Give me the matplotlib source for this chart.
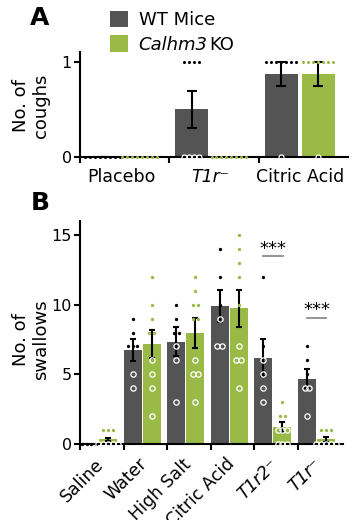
import matplotlib
matplotlib.use("Agg")
import matplotlib.pyplot as plt
from matplotlib.patches import Patch
from matplotlib.transforms import offset_copy
import numpy as np

plt.rcParams['font.family'] = ['DejaVu Sans']

WT_COLOR = '#545454'
KO_COLOR = '#9aba48'

# ---------------- Panel A data ----------------
a_groups = ["Placebo", "T1r\u207b", "Citric Acid"]
a_italic = [False, True, False]
a_wt_mean = [0.0, 0.5, 0.875]
a_wt_err = [0.0, 0.19, 0.125]
a_ko_mean = [0.0, 0.0, 0.875]
a_ko_err = [0.0, 0.0, 0.125]
a_wt_pts = [[0, 0, 0, 0, 0, 0, 0, 0],
            [1, 1, 1, 1, 0, 0, 0, 0],
            [1, 1, 1, 1, 1, 1, 1, 0]]
a_ko_pts = [[0, 0, 0, 0, 0, 0, 0, 0],
            [0, 0, 0, 0, 0, 0, 0, 0],
            [1, 1, 1, 1, 1, 1, 1, 0]]

# ---------------- Panel B data ----------------
b_groups = ["Saline", "Water", "High Salt", "Citric Acid", "T1r2\u207b", "T1r\u207b"]
b_italic = [False, False, False, False, True, True]
b_wt_mean = [0.0, 6.73, 7.34, 9.9, 6.2, 4.69]
b_wt_err = [0.0, 0.78, 1.05, 1.12, 1.3, 0.7]
b_ko_mean = [0.33, 7.19, 7.94, 9.74, 1.22, 0.33]
b_ko_err = [0.12, 1.0, 1.08, 1.33, 0.36, 0.18]
b_wt_pts = [[0, 0, 0, 0],
            [9, 8, 7, 7, 7, 5, 4],
            [10, 9, 8, 8, 7, 6, 3],
            [14, 12, 10, 9, 7, 7],
            [12, 7, 6, 5, 4, 3],
            [7, 6, 5, 4, 4, 2]]
b_ko_pts = [[1, 1, 1, 0, 0, 0, 0, 0],
            [12, 10, 9, 8, 8, 6, 5, 4, 2],
            [12, 11, 10, 10, 9, 9, 6, 5, 5, 3],
            [15, 14, 13, 12, 10, 7, 6, 6, 4],
            [3, 2, 2, 1, 1, 1, 0, 0, 0],
            [1, 1, 1, 0, 0, 0, 0, 0]]
sig_groups = [4, 5]
sig_text_y = [14.0, 9.6]
sig_line_y = [13.5, 9.05]

fig = plt.figure(figsize=(3.6, 5.2), dpi=100)


def draw_points(ax, xc, pts, mean, color, spacing, ms_dot, ms_circ):
    vals = sorted(set(pts))
    for v in vals:
        n = pts.count(v)
        xs = xc + spacing * (np.arange(n) - (n - 1) / 2)
        ys = np.full(n, v, dtype=float)
        if v < mean:
            ax.plot(xs, ys, 'o', ms=ms_circ, mfc='none', mec='white',
                    mew=0.9, zorder=5, clip_on=False, linestyle='none')
        else:
            ax.plot(xs, ys, 'o', ms=ms_dot, mfc=color, mec=color,
                    mew=0, zorder=5, clip_on=False, linestyle='none')


def style_axes(ax):
    for s in ['top', 'right']:
        ax.spines[s].set_visible(False)
    for s in ['left', 'bottom']:
        ax.spines[s].set_linewidth(1.5)
    ax.tick_params(axis='both', which='major', width=1.5, length=4,
                   labelsize=11.5, colors='black', pad=2)


# ---------------- Panel A ----------------
axA = fig.add_axes([80 / 360, 1 - 157 / 520, 268 / 360, 105 / 520])
style_axes(axA)
gx = np.arange(len(a_groups))
wA = 0.369
wt_x = gx + 0.251
ko_x = gx + 0.665
axA.bar(wt_x, a_wt_mean, width=wA, color=WT_COLOR, zorder=2)
axA.bar(ko_x, a_ko_mean, width=wA, color=KO_COLOR, zorder=2)
axA.errorbar(wt_x, a_wt_mean, yerr=a_wt_err, fmt='none', ecolor='black',
             elinewidth=1.5, capsize=3.5, capthick=1.5, zorder=4)
axA.errorbar(ko_x[2:], a_ko_mean[2:], yerr=a_ko_err[2:], fmt='none', ecolor='black',
             elinewidth=1.5, capsize=3.5, capthick=1.5, zorder=4)
for i in range(len(a_groups)):
    draw_points(axA, wt_x[i], a_wt_pts[i], a_wt_mean[i], 'black', 0.055, 2.2, 3.6)
    draw_points(axA, ko_x[i], a_ko_pts[i], a_ko_mean[i], KO_COLOR, 0.055, 2.2, 3.6)
axA.set_xlim(0, 3.0)
axA.set_ylim(0, 1.105)
axA.set_yticks([0, 1])
axA.set_xticks([0, 1, 2])
axA.set_xticklabels([])
axA.set_xticks(gx + 0.46, minor=True)
axA.set_xticklabels(a_groups, minor=True, fontsize=12.5)
for lbl, it in zip(axA.get_xticklabels(minor=True), a_italic):
    if it:
        lbl.set_fontstyle('italic')
axA.tick_params(axis='x', which='minor', length=0, pad=8)
axA.text(-0.183, 0.49, "No. of\ncoughs", transform=axA.transAxes, rotation=90,
         ha='center', va='center', fontsize=13, linespacing=1.15)

# ---------------- Panel B ----------------
axB = fig.add_axes([80 / 360, 1 - 444 / 520, 263 / 360, 223 / 520])
style_axes(axB)
gxb = np.arange(len(b_groups))
wB = 0.413
wtb_x = gxb + 0.206
kob_x = gxb + 0.64
axB.bar(wtb_x, b_wt_mean, width=wB, color=WT_COLOR, zorder=2)
axB.bar(kob_x, b_ko_mean, width=wB, color=KO_COLOR, zorder=2)
axB.errorbar(wtb_x[1:], b_wt_mean[1:], yerr=b_wt_err[1:], fmt='none', ecolor='black',
             elinewidth=1.5, capsize=2.5, capthick=1.5, zorder=4)
axB.errorbar(kob_x, b_ko_mean, yerr=b_ko_err, fmt='none', ecolor='black',
             elinewidth=1.5, capsize=2.5, capthick=1.5, zorder=4)
for i in range(len(b_groups)):
    draw_points(axB, wtb_x[i], b_wt_pts[i], b_wt_mean[i], 'black', 0.11, 2.4, 3.8)
    draw_points(axB, kob_x[i], b_ko_pts[i], b_ko_mean[i], KO_COLOR, 0.11, 2.4, 3.8)
axB.set_xlim(0, 6.03)
axB.set_ylim(0, 16)
axB.set_yticks([0, 5, 10, 15])
axB.set_xticks([0, 1, 2, 3, 4, 5])
axB.set_xticklabels([])
for i, (lab, it) in enumerate(zip(b_groups, b_italic)):
    axB.text(i + 0.33, -0.8, lab, rotation=45, rotation_mode='anchor',
             ha='right', va='top', fontsize=12.5,
             fontstyle='italic' if it else 'normal')
for g, ty, ly in zip(sig_groups, sig_text_y, sig_line_y):
    xc = g + 0.425
    axB.text(xc, ty, "***", ha='center', va='center', fontsize=13)
    axB.plot([xc - 0.22, xc + 0.22], [ly, ly], color='#808080', lw=1.2)
axB.text(-0.186, 0.47, "No. of\nswallows", transform=axB.transAxes, rotation=90,
         ha='center', va='center', fontsize=13, linespacing=1.15)

# panel letters
fig.text(30 / 360, 1 - 18 / 520, "A", fontsize=18, fontweight='bold', va='center', ha='left')
fig.text(31 / 360, 1 - 203 / 520, "B", fontsize=18, fontweight='bold', va='center', ha='left')

# legend
handles = [Patch(facecolor=WT_COLOR, edgecolor='none'),
           Patch(facecolor=KO_COLOR, edgecolor='none')]
leg = fig.legend(handles, ["WT Mice", "Calhm3"], loc='upper left',
                 bbox_to_anchor=(99 / 360, 1 - 0 / 520), frameon=False, fontsize=13,
                 handlelength=1.0, handleheight=1.0, handletextpad=0.6, labelspacing=0.35,
                 borderaxespad=0.2)
ko_txt = leg.get_texts()[1]
ko_txt.set_fontstyle('italic')
fig.canvas.draw()
bb = ko_txt.get_window_extent()
fig.text(bb.x1 / fig.bbox.width + 2 / 360,
         (bb.y0 + bb.y1) / 2 / fig.bbox.height, "KO",
         fontsize=13, ha='left', va='center')

fig.savefig("out.png", dpi=100)
